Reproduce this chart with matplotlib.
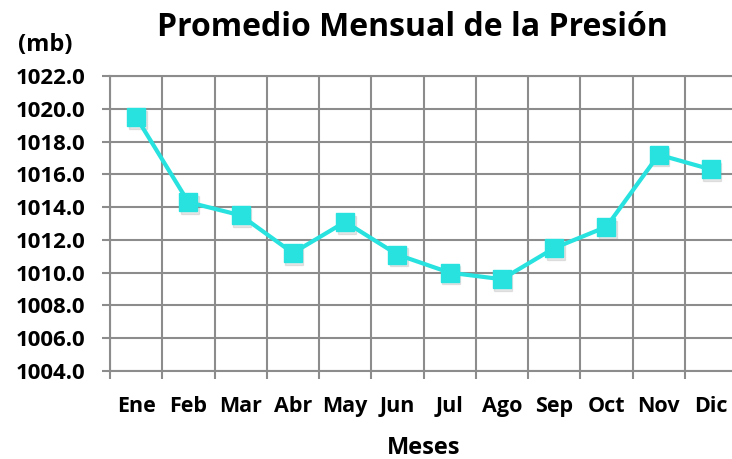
import matplotlib
matplotlib.use("Agg")
import matplotlib.pyplot as plt
import matplotlib.transforms as mtransforms
import numpy as np

meses = ['Ene', 'Feb', 'Mar', 'Abr', 'May', 'Jun', 'Jul', 'Ago', 'Sep', 'Oct', 'Nov', 'Dic']
presion = [1019.5, 1014.3, 1013.5, 1011.2, 1013.1, 1011.1, 1010.0, 1009.6, 1011.5, 1012.8, 1017.2, 1016.3]
y_ticks = [1004.0, 1006.0, 1008.0, 1010.0, 1012.0, 1014.0, 1016.0, 1018.0, 1020.0, 1022.0]

plt.rcParams['font.family'] = ['Open Sans', 'DejaVu Sans']
plt.rcParams['font.weight'] = 'bold'

color_linea = '#27E2DE'
color_grid = '#8C8C8C'

fig = plt.figure(figsize=(7.32, 4.59), dpi=100)
ax = fig.add_axes([0.1503, 0.1917, 0.8566, 0.6427])

x = np.arange(len(meses)) + 0.5

# sombra suave bajo los marcadores
sombra = ax.transData + mtransforms.ScaledTranslation(1 / 72, -2 / 72, fig.dpi_scale_trans)
ax.plot(x, presion, ls='none', marker='s', markersize=13, color='#888888', alpha=0.2,
        transform=sombra, zorder=2)
ax.plot(x, presion, color=color_linea, lw=3, marker='s', markersize=13,
        markerfacecolor=color_linea, markeredgecolor=color_linea, zorder=3)

ax.set_xlim(0, len(meses))
ax.set_ylim(1004, 1022)
ax.set_yticks(y_ticks)
ax.set_yticklabels([f'{v:.1f}' for v in y_ticks], fontsize=16, fontweight='bold')

# lineas de grilla entre categorias
ax.set_xticks(np.arange(len(meses) + 1))
ax.set_xticklabels([])
ax.set_xticks(x, minor=True)
ax.set_xticklabels(meses, minor=True, fontsize=15.5, fontweight='bold')
ax.tick_params(axis='x', which='minor', length=0, pad=18)
ax.tick_params(axis='x', which='major', length=6, width=1.5, color=color_grid)
ax.tick_params(axis='y', length=6, width=1.5, color=color_grid, pad=12)

ax.grid(True, which='major', color=color_grid, lw=1.5)
ax.set_axisbelow(True)
for s in ax.spines.values():
    s.set_color(color_grid)
    s.set_linewidth(1.5)

ax.set_xlabel('Meses', fontsize=17, fontweight='bold', labelpad=14)

fig.text(0.563, 0.94, 'Promedio Mensual de la Presión', ha='center', va='center',
         fontsize=23, fontweight='bold')
fig.text(0.062, 0.902, '(mb)', ha='center', va='center', fontsize=17, fontweight='bold')

fig.savefig('out.png', dpi=100, facecolor='white')
